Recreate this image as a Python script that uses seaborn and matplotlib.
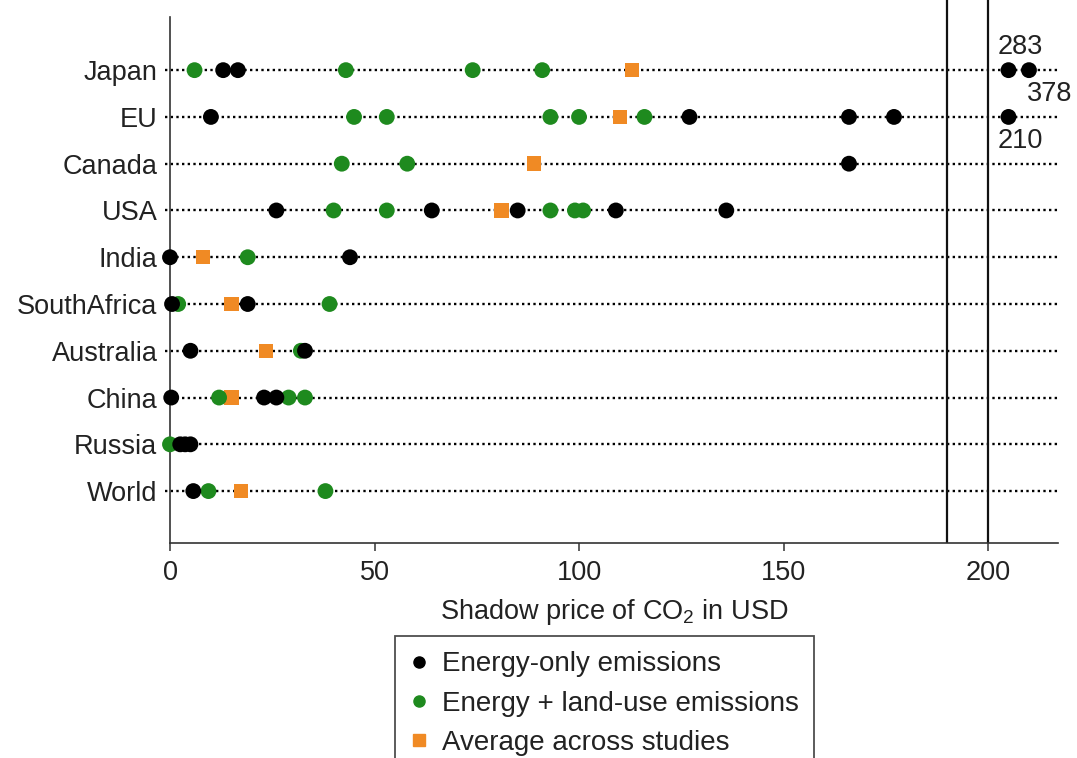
import numpy as np
import pandas as pd
import matplotlib
matplotlib.use("Agg")
import matplotlib.pyplot as plt
from matplotlib.lines import Line2D
import seaborn as sns

# ---------------- data ----------------
countries = ["Japan", "EU", "Canada", "USA", "India", "SouthAfrica",
             "Australia", "China", "Russia", "World"]

energy_only = {
    "Japan": [13, 16.6],
    "EU": [10, 127, 166, 177],
    "Canada": [166],
    "USA": [26, 64, 85, 109, 136],
    "India": [0, 44],
    "SouthAfrica": [0.5, 19],
    "Australia": [5, 33],
    "China": [0.3, 23, 26],
    "Russia": [2.5, 3.7, 5],
    "World": [5.7],
}
energy_land = {
    "Japan": [6, 43, 74, 91],
    "EU": [45, 53, 93, 100, 116],
    "Canada": [42, 58],
    "USA": [40, 53, 93, 99, 101],
    "India": [19],
    "SouthAfrica": [2, 39],
    "Australia": [32],
    "China": [12, 29, 33],
    "Russia": [0],
    "World": [9.4, 38],
}
average = {
    "Japan": 113, "EU": 110, "Canada": 89, "USA": 81, "India": 8,
    "SouthAfrica": 15, "Australia": 23.5, "China": 15, "World": 17.3,
}
# energy-only values beyond the axis break: (country, true value, position shown)
offscale_country = ["Japan", "Japan", "EU"]
offscale_value = [283, 378, 210]
offscale_shown = [205, 210, 205]

xticks = [0, 50, 100, 150, 200]
break_lines = [190, 200]

S_EO = "Energy-only emissions"
S_EL = "Energy + land-use emissions"
S_AV = "Average across studies"

# ---------------- long table ----------------
rows = []
for c, v in average.items():
    rows.append((c, v, S_AV))
for c, vals in energy_land.items():
    for v in vals:
        rows.append((c, v, S_EL))
for c, vals in energy_only.items():
    for v in vals:
        rows.append((c, v, S_EO))
for c, v in zip(offscale_country, offscale_shown):
    rows.append((c, v, S_EO))
df = pd.DataFrame(rows, columns=["country", "price", "series"])
df["pos"] = df["country"].map({c: i for i, c in enumerate(countries)})

# ---------------- style ----------------
sns.set_style("white")
plt.rcParams["font.family"] = ["Liberation Sans", "DejaVu Sans"]
plt.rcParams["mathtext.fontset"] = "custom"
plt.rcParams["mathtext.rm"] = "Liberation Sans"
plt.rcParams["mathtext.default"] = "regular"
TXT = "#222222"
FS = 19.5
BLACK = "#000000"
GREEN = "#1e8a1e"
ORANGE = "#f08a24"

fig = plt.figure(figsize=(10.77, 7.58), dpi=100)
ax = fig.add_axes([170 / 1077, 1 - 543 / 758, (1058 - 170) / 1077, 543 / 758])

# dotted row guides
for i in range(len(countries)):
    ax.hlines(i, -1.2, 217.6, colors="black", linestyles=(0, (1, 1.4)),
              linewidth=1.7, clip_on=False, zorder=1)

# axis-break lines
for b in break_lines:
    ax.axvline(b, color="#111111", linewidth=1.6, zorder=1)

sns.scatterplot(data=df, x="price", y="pos", hue="series", style="series",
                size="series",
                palette={S_EO: BLACK, S_EL: GREEN, S_AV: ORANGE},
                markers={S_EO: "o", S_EL: "o", S_AV: "s"},
                sizes={S_EO: 130, S_EL: 130, S_AV: 108},
                linewidth=0, legend=False, clip_on=False, zorder=3, ax=ax)

# labels for off-scale values
offsets = [(8.6, 16.5), (15.0, -17.0), (8.6, -17.0)]
for c, v, xs, off in zip(offscale_country, offscale_value, offscale_shown, offsets):
    ax.annotate(str(v), xy=(xs, countries.index(c)), xytext=off,
                textcoords="offset points", ha="center", va="center",
                fontsize=FS, color=TXT)

ax.set_xlim(0, 217.1)
ax.set_ylim(10.11, -1.5)
ax.set_yticks(range(len(countries)))
ax.set_yticklabels(countries)
ax.set_xticks(xticks)
ax.set_xticklabels([str(t) for t in xticks])
ax.tick_params(axis="y", length=0, pad=9, labelsize=FS, labelcolor=TXT)
ax.tick_params(axis="x", length=6, width=1.1, color="#333333", pad=6,
               labelsize=FS, labelcolor=TXT, direction="out", bottom=True)
ax.set_xlabel("Shadow price of CO$_2$ in USD", fontsize=FS, color=TXT, labelpad=8)
ax.set_ylabel("")

for sp in ["top", "right"]:
    ax.spines[sp].set_visible(False)
for sp in ["left", "bottom"]:
    ax.spines[sp].set_color("#333333")
    ax.spines[sp].set_linewidth(1.2)
ax.spines["left"].set_bounds(-1.136, 10.11)

handles = [
    Line2D([], [], marker="o", linestyle="", color=BLACK, markersize=8),
    Line2D([], [], marker="o", linestyle="", color=GREEN, markersize=8),
    Line2D([], [], marker="s", linestyle="", color=ORANGE, markersize=8),
]
leg = fig.legend(handles, [S_EO, S_EL, S_AV], loc="upper left",
                 bbox_to_anchor=(395 / 1077, 1 - 636 / 758),
                 fontsize=20, frameon=True, fancybox=False, edgecolor="#222222",
                 handlelength=0.6, handletextpad=0.55, labelspacing=0.48,
                 borderpad=0.55, borderaxespad=0)
leg.get_frame().set_linewidth(1.3)
for t in leg.get_texts():
    t.set_color(TXT)

fig.savefig("out.png", dpi=100, facecolor="white")
